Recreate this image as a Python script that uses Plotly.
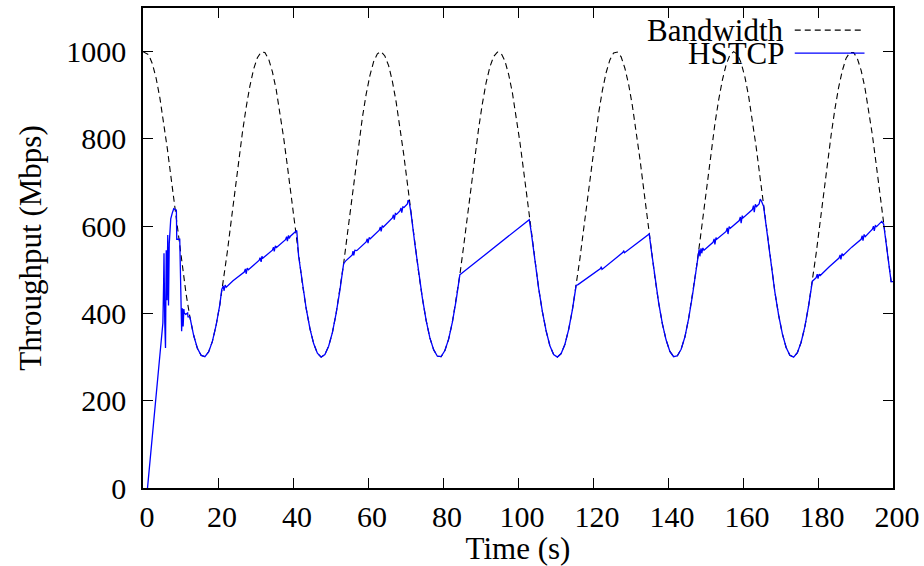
import plotly.graph_objects as go

# ---------------- data ----------------
# Bandwidth samples: t = 0, then the middle of every second 1.5 .. 199.5, then 200
BW_T = [0.0] + [i + 0.5 for i in range(1, 200)] + [200.0]
BW_V = [
    1000, 993, 972, 939, 894, 839, 777, 710, 640, 570,
    504, 444, 392, 350, 320, 304, 301, 312, 336, 373,
    421, 478, 542, 611, 681, 749, 814, 872, 921, 960,
    986, 999, 998, 983, 954, 914, 863, 803, 738, 669,
    599, 531, 468, 412, 366, 331, 309, 300, 306, 325,
    356, 400, 453, 514, 582, 652, 721, 788, 849, 902,
    945, 977, 995, 1000, 990, 968, 932, 885, 829, 766,
    698, 628, 559, 494, 435, 384, 344, 317, 302, 301,
    315, 341, 380, 430, 489, 554, 622, 692, 761, 824,
    881, 929, 965, 989, 999, 996, 979, 948, 906, 853,
    793, 727, 657, 588, 520, 458, 404, 360, 326, 306,
    300, 308, 329, 363, 408, 464, 525, 593, 663, 732,
    798, 859, 911, 952, 981, 997, 999, 988, 962, 925,
    876, 819, 755, 686, 616, 548, 483, 425, 376, 339,
    313, 301, 303, 318, 346, 388, 440, 500, 565, 634,
    704, 772, 834, 889, 935, 970, 992, 1000, 994, 974,
    942, 898, 844, 782, 715, 645, 576, 510, 449, 396,
    353, 322, 304, 300, 310, 334, 370, 418, 474, 537,
    605, 675, 744, 809, 868, 918, 957, 985, 998, 998,
    984, 957, 918, 867, 809, 743, 674, 605, 536, 473,
    473,
]

# HSTCP: slow start (irregular), then alternating "following the bandwidth"
# phases (one value per second) and "growing" ramps
SS_T = [1.2, 5.3, 5.5, 5.6, 5.8, 6.0, 6.2, 6.4, 6.6, 6.8, 7.0, 7.4, 7.8, 8.2,
        8.9, 9.0, 9.8, 10.0, 10.2, 10.3, 10.5, 10.6, 10.7, 10.9, 11.0, 11.4,
        11.9, 12.0]
SS_V = [0, 378, 470, 538, 380, 321, 545, 430, 580, 418, 560, 617, 630, 640,
        637, 570, 570, 505, 417, 359, 412, 404, 370, 410, 401, 398, 401, 392]

F1_T0, F1_V = 12.5, [392, 350, 320, 304, 301, 312, 336, 373, 421]
R1_T = [21.0, 21.4, 21.6, 21.9, 22.2, 24.0, 27.0, 27.3, 27.5, 27.8, 28.1,
        31.0, 31.2, 31.5, 31.7, 32.0, 34.5, 34.8, 35.0, 35.3, 35.6, 38.0, 38.3,
        38.5, 38.8, 39.0, 39.3, 40.5, 41.0]
R1_V = [455, 463, 452, 465, 460, 475, 495, 502, 491, 504, 500,
        522, 528, 518, 531, 527, 545, 552, 542, 555, 551, 569, 576,
        566, 579, 572, 577, 586, 590]

F2_T0, F2_V = 41.5, [531, 468, 412, 366, 331, 309, 300, 306, 325, 356, 400, 453, 514]
R2_T = [54.0, 55.0, 55.8, 56.0, 56.2, 56.5, 57.0, 59.5, 59.8, 60.0, 60.3,
        60.6, 63.0, 63.3, 63.5, 63.8, 64.1, 66.5, 66.8, 67.0, 67.3, 67.6, 68.5,
        68.8, 69.0, 69.3, 69.6, 70.5, 70.7, 71.0]
R2_V = [520, 528, 534, 543, 533, 545, 544, 564, 571, 561, 574,
        571, 591, 598, 588, 601, 598, 619, 626, 615, 629, 627, 635,
        642, 631, 644, 643, 651, 660, 655]

F3_T0, F3_V = 71.5, [628, 559, 494, 435, 384, 344, 317, 302, 301, 315, 341, 380, 430, 489]
R3_T = [85.0, 103.0]
R3_V = [492, 615]

F4_T0, F4_V = 103.5, [588, 520, 458, 404, 360, 326, 306, 300, 308, 329, 363, 408, 464]
R4_T = [116.0, 122.0, 122.2, 122.4, 128.0, 128.2, 128.4, 135.0]
R4_V = [466, 503, 507, 501, 540, 544, 539, 582]

F5_T0, F5_V = 135.5, [548, 483, 425, 376, 339, 313, 301, 303, 318, 346, 388, 440, 500]
R5_T = [148.0, 148.3, 148.5, 148.8, 149.0, 149.3, 149.6, 152.0, 152.3,
        152.5, 152.8, 153.0, 155.5, 155.8, 156.0, 156.3, 156.6, 159.0, 159.3,
        159.5, 159.8, 160.0, 162.5, 162.8, 163.0, 163.3, 163.6, 164.3, 164.6,
        165.0]
R5_V = [535, 547, 531, 549, 538, 550, 545, 563, 571,
        558, 574, 570, 588, 596, 582, 599, 595, 613, 621,
        607, 624, 619, 638, 647, 632, 650, 645, 651, 662,
        656]

F6_T0, F6_V = 165.5, [645, 576, 510, 449, 396, 353, 322, 304, 300, 310, 334, 370, 418, 474]
R6_T = [179.0, 179.5, 179.8, 180.0, 180.3, 180.6, 183.0, 185.6, 185.9,
        186.1, 186.4, 186.7, 189.0, 191.5, 191.8, 192.0, 192.3, 192.6, 194.5,
        194.8, 195.0, 195.3, 195.6, 197.0]
R6_V = [478, 482, 490, 480, 490, 487, 507, 527, 534,
        524, 537, 533, 552, 570, 578, 567, 581, 576, 593,
        600, 589, 601, 599, 611]

F7_T0, F7_V = 197.5, [605, 536, 473]
END_T, END_V = 200.0, 473

# ---------------- assemble the HSTCP polyline ----------------
def following(t0, vals):
    return [t0 + i for i in range(len(vals))], list(vals)

hx, hy = list(SS_T), list(SS_V)
for (t0, fv), (rt, rv) in [((F1_T0, F1_V), (R1_T, R1_V)),
                           ((F2_T0, F2_V), (R2_T, R2_V)),
                           ((F3_T0, F3_V), (R3_T, R3_V)),
                           ((F4_T0, F4_V), (R4_T, R4_V)),
                           ((F5_T0, F5_V), (R5_T, R5_V)),
                           ((F6_T0, F6_V), (R6_T, R6_V))]:
    fx, fy = following(t0, fv)
    hx += fx + list(rt)
    hy += fy + list(rv)
fx, fy = following(F7_T0, F7_V)
hx += fx + [END_T]
hy += fy + [END_V]

FONT = "Liberation Serif"
BW_COLOR = "#000000"
HS_COLOR = "#0000ff"

fig = go.Figure()
fig.add_trace(go.Scatter(
    x=BW_T, y=BW_V, mode="lines", name="Bandwidth",
    line=dict(color=BW_COLOR, width=1.1, dash="6px,4px"),
    showlegend=False,
))
fig.add_trace(go.Scatter(
    x=hx, y=hy, mode="lines", name="HSTCP",
    line=dict(color=HS_COLOR, width=1.3),
    showlegend=False,
))

# gnuplot-style key (text right-aligned, sample line to its right)
for name, ypos, color, dash in [("Bandwidth", 0.954, BW_COLOR, "6px,4px"),
                                ("HSTCP", 0.906, HS_COLOR, "solid")]:
    fig.add_annotation(x=0.857, y=ypos, xref="paper", yref="paper",
                       text=name, showarrow=False, xanchor="right",
                       yanchor="middle", font=dict(family=FONT, size=31, color="black"))
    fig.add_shape(type="line", xref="paper", yref="paper",
                  x0=0.869, x1=0.962, y0=ypos, y1=ypos,
                  line=dict(color=color, width=1.3 if dash == "solid" else 1.1, dash=dash))

axis_common = dict(
    showline=True, linecolor="black", linewidth=1.5, mirror="ticks",
    ticks="inside", ticklen=10, tickwidth=1.3, tickcolor="black",
    showgrid=False, zeroline=False,
    tickfont=dict(family=FONT, size=30, color="black"),
)
fig.update_xaxes(range=[0, 200], tickvals=list(range(0, 201, 20)),
                 title=dict(text="Time (s)", font=dict(family=FONT, size=31, color="black"), standoff=5),
                 ticklabelstandoff=1, ticklabelshift=4, **axis_common)
fig.update_yaxes(range=[0, 1100], tickvals=list(range(0, 1001, 200)),
                 title=dict(text="Throughput (Mbps)", font=dict(family=FONT, size=31, color="black"), standoff=15),
                 ticklabelstandoff=9, **axis_common)

fig.update_layout(
    width=924, height=566,
    margin=dict(l=143, r=31, t=8, b=78, autoexpand=False),
    paper_bgcolor="white", plot_bgcolor="white",
    showlegend=False,
)

fig.write_html("out.html", config={"displayModeBar": False},
               post_script="document.body.style.margin='0';")
